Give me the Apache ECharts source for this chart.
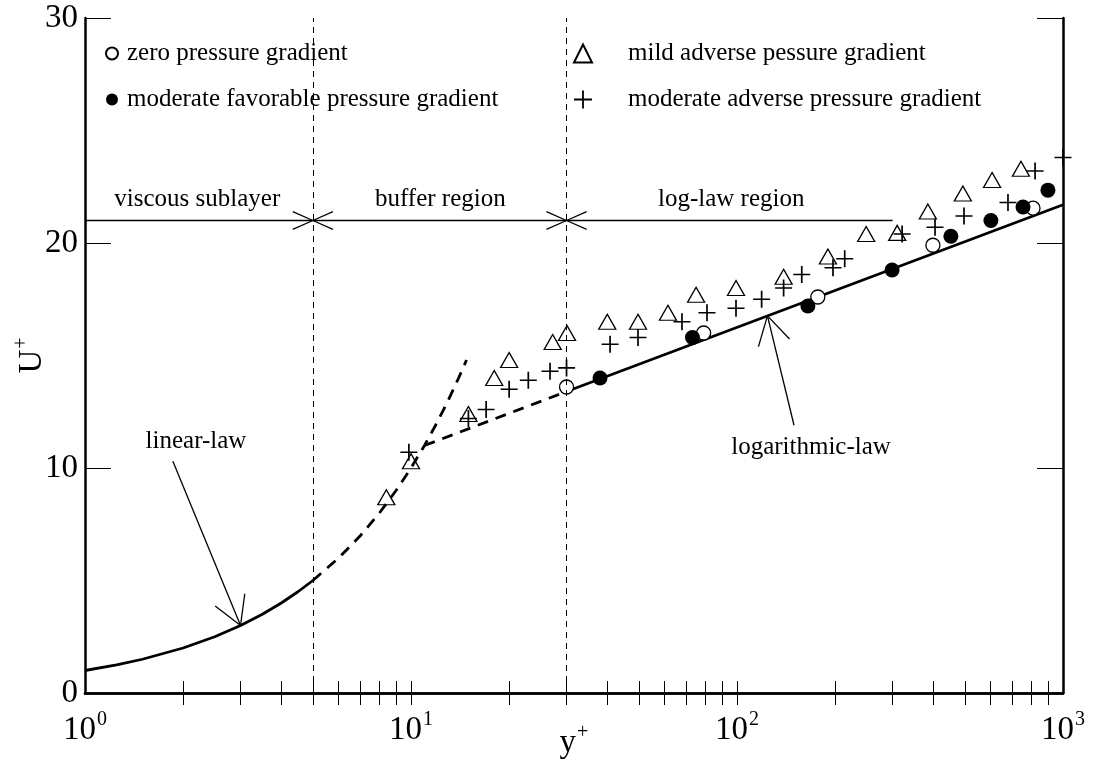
<!DOCTYPE html>
<html><head><meta charset="utf-8">
<script src="https://cdn.jsdelivr.net/npm/echarts@6/dist/echarts.min.js"></script>
<style>html,body{margin:0;padding:0;background:#fff}#c{width:1093px;height:760px}</style>
</head><body><div id="c"></div>
<script>
// ---- data ----
const xTickLabels = [1, 10, 100, 1000];
const xTicks = [2,3,4,5,6,7,8,9,10,20,30,40,50,60,70,80,90,100,200,300,400,500,600,700,800,900];
const yTickLabels = [0, 10, 20, 30];

const seriesNames = ['zero pressure gradient', 'moderate favorable pressure gradient',
                     'mild adverse pessure gradient', 'moderate adverse pressure gradient'];

const zeroX = [30, 79, 177, 399, 809];
const zeroY = [13.6, 16.0, 17.6, 19.9, 21.55];

const favX = [38, 73, 165, 299, 453, 601, 754, 899];
const favY = [14.0, 15.8, 17.2, 18.8, 20.3, 21.0, 21.6, 22.35];

const mildX = [8.4, 10, 15, 18, 20, 27.2, 30.1, 40, 49.7, 61.4, 74.9, 99.3, 139, 190, 249, 310, 385, 493, 606, 743];
const mildY = [8.7, 10.3, 12.4, 14.0, 14.8, 15.6, 16.0, 16.5, 16.5, 16.9, 17.7, 18.0, 18.5, 19.4, 20.4, 20.45, 21.4, 22.2, 22.8, 23.3];

const advX = [9.85, 15, 17, 20, 22.9, 26.7, 30, 40.8, 49.7, 67.8, 80.9, 99.3, 119, 139, 158, 197, 214, 321, 405, 497, 678, 821, 1000];
const advY = [10.7, 12.2, 12.6, 13.5, 13.9, 14.3, 14.45, 15.5, 15.8, 16.5, 16.9, 17.1, 17.5, 18.0, 18.6, 18.9, 19.3, 20.4, 20.7, 21.2, 21.8, 23.2, 23.8];

const linSolidX = [1, 1.25, 1.5, 2, 2.5, 3, 3.5, 4, 4.5, 5];
const linSolidY = [1, 1.25, 1.5, 2, 2.5, 3, 3.5, 4, 4.5, 5];
const linDashX = [5, 6, 7, 8, 9, 10, 11, 12, 13, 14, 14.8];
const linDashY = [5, 6, 7, 8, 9, 10, 11, 12, 13, 14, 14.8];
const logDashX = [11, 30];
const logDashY = [11.0, 13.4];
const logSolidX = [30, 1000];
const logSolidY = [13.4, 21.7];

const regionBounds = [5, 30];
const regionLine = [[1, 21], [300, 21]];
const regionLabels = ['viscous sublayer', 'buffer region', 'log-law region'];
const regionLabelX = [2.21, 12.3, 96];
const regionLabelY = 21.95;

const linLabel = {text: 'linear-law', at: [2.19, 11.2], tail: [1.86, 10.3], tip: [3, 3]};
const logLabel = {text: 'logarithmic-law', at: [168.7, 10.93], tail: [149.6, 11.9], tip: [124, 16.76]};

// ---- helpers ----
const zip = (a, b) => a.map((v, i) => [v, b[i]]);
const FONT = 'Liberation Serif';
const plusPath = 'path://M0,4.5H4.5V0H5.5V4.5H10V5.5H5.5V10H4.5V5.5H0Z';
const supRich = {
  b: {fontFamily: FONT, fontSize: 33, color: '#000', lineHeight: 40},
  s: {fontFamily: FONT, fontSize: 20, color: '#000', verticalAlign: 'top', lineHeight: 40, padding: [0, 0, 14, 1]}
};

const chart = echarts.init(document.getElementById('c'), null, {renderer: 'canvas'});

const xAxisBase = {
  type: 'log', logBase: 10, min: 1, max: 1000,
  axisLine: {lineStyle: {color: '#000', width: 2.5}},
  axisTick: {inside: true, length: 12, customValues: xTicks, lineStyle: {color: '#000', width: 1}},
  splitLine: {show: false}, minorTick: {show: false}
};
const yAxisBase = {
  type: 'value', min: 0, max: 30, interval: 10,
  axisLine: {show: true, lineStyle: {color: '#000', width: 2.5}},
  axisTick: {inside: true, length: 26, lineStyle: {color: '#000', width: 1}},
  splitLine: {show: false}
};

const option = {
  animation: false,
  backgroundColor: '#fff',
  grid: {left: 85, right: 30, top: 18, bottom: 67, containLabel: false, outerBoundsMode: 'none'},
  legend: [
    {left: 100, top: 36, orient: 'vertical', itemGap: 21, itemWidth: 12, itemHeight: 12,
     data: [seriesNames[0], seriesNames[1]],
     textStyle: {fontFamily: FONT, fontSize: 25, color: '#000', padding: [0, 0, 0, 4]}},
    {left: 568, top: 36, orient: 'vertical', itemGap: 21, itemWidth: 18, itemHeight: 18,
     data: [seriesNames[2], seriesNames[3]],
     textStyle: {fontFamily: FONT, fontSize: 25, color: '#000', padding: [0, 0, 0, 31]}}
  ],
  xAxis: [
    Object.assign({}, xAxisBase, {
      position: 'bottom',
      axisLabel: {customValues: xTickLabels, margin: 17,
        formatter: v => '{b|10}{s|' + Math.round(Math.log10(v)) + '}', rich: supRich},
      name: '{b|y}{s|+}', nameLocation: 'middle', nameGap: 30, nameMoveOverlap: false,
      nameTextStyle: {rich: supRich}
    }),
    Object.assign({}, xAxisBase, {position: 'top', axisLabel: {show: false}})
  ],
  yAxis: [
    Object.assign({}, yAxisBase, {
      position: 'left',
      axisLabel: {customValues: yTickLabels, fontFamily: FONT, fontSize: 33, color: '#000', margin: 7},
      name: '{b|U}{s|+}', nameLocation: 'middle', nameGap: 33, nameRotate: 90, nameMoveOverlap: false,
      nameTextStyle: {rich: supRich}
    }),
    Object.assign({}, yAxisBase, {position: 'right', axisLabel: {show: false}})
  ],
  series: [
    {name: seriesNames[0], type: 'scatter', z: 4, data: zip(zeroX, zeroY), symbol: 'circle', symbolSize: 14,
     itemStyle: {color: '#fff', borderColor: '#000', borderWidth: 1.3, opacity: 1}},
    {name: seriesNames[1], type: 'scatter', z: 4, data: zip(favX, favY), symbol: 'circle', symbolSize: 15,
     itemStyle: {color: '#000', opacity: 1}},
    {name: seriesNames[2], type: 'scatter', z: 4, data: zip(mildX, mildY), symbol: 'triangle', symbolSize: [17, 15],
     itemStyle: {color: 'rgba(0,0,0,0)', borderColor: '#000', borderWidth: 1.3, opacity: 1}},
    {name: seriesNames[3], type: 'scatter', z: 5, data: zip(advX, advY), symbol: plusPath, symbolSize: 17,
     itemStyle: {color: '#000', opacity: 1}},
    {type: 'line', z: 3, data: zip(linSolidX, linSolidY), symbol: 'none', silent: true,
     lineStyle: {color: '#000', width: 2.8},
     markLine: {silent: true, symbol: 'none', label: {show: false},
       data: [
         {xAxis: regionBounds[0], lineStyle: {type: [6, 5], width: 1, color: '#000'}},
         {xAxis: regionBounds[1], lineStyle: {type: [6, 5], width: 1, color: '#000'}},
         [{coord: regionLine[0], lineStyle: {type: 'solid', width: 1.3, color: '#000'}}, {coord: regionLine[1]}]
       ]}},
    {type: 'line', z: 3, data: zip(linDashX, linDashY), symbol: 'none', silent: true,
     lineStyle: {color: '#000', width: 2.8, type: [11, 8]}},
    {type: 'line', z: 3, data: zip(logDashX, logDashY), symbol: 'none', silent: true,
     lineStyle: {color: '#000', width: 2.8, type: [11, 8]}},
    {type: 'line', z: 3, data: zip(logSolidX, logSolidY), symbol: 'none', silent: true,
     lineStyle: {color: '#000', width: 2.8}}
  ]
};
chart.setOption(option);

// ---- annotations placed through the chart's own coordinate conversion ----
const px = p => chart.convertToPixel({seriesIndex: 4}, p);
const els = [];
function seg(a, b, w) {
  els.push({type: 'line', silent: true, z: 10,
    shape: {x1: a[0], y1: a[1], x2: b[0], y2: b[1]},
    style: {stroke: '#000', lineWidth: w || 1.3}});
}
function head(tip, dirAng, spread, len) {
  [spread, -spread].forEach(s => {
    const a = (dirAng + s) * Math.PI / 180;
    seg(tip, [tip[0] + len * Math.cos(a), tip[1] + len * Math.sin(a)]);
  });
}
function text(str, p) {
  els.push({type: 'text', silent: true, z: 10, x: p[0], y: p[1],
    style: {text: str, fill: '#000', font: '25px "' + FONT + '"',
      align: 'center', verticalAlign: 'middle', textAlign: 'center', textVerticalAlign: 'middle'}});
}
regionBounds.forEach(b => {
  const p = px([b, regionLine[0][1]]);
  head(p, 180, 24, 22);
  head(p, 0, 24, 22);
});
regionLabels.forEach((t, i) => text(t, px([regionLabelX[i], regionLabelY])));
[linLabel, logLabel].forEach(l => {
  const tip = px(l.tip), tail = px(l.tail);
  seg(tail, tip);
  const ang = Math.atan2(tail[1] - tip[1], tail[0] - tip[0]) * 180 / Math.PI;
  head(tip, ang, 30, 32);
  text(l.text, px(l.at));
});
chart.setOption({graphic: {elements: els}});
</script>
</body></html>
